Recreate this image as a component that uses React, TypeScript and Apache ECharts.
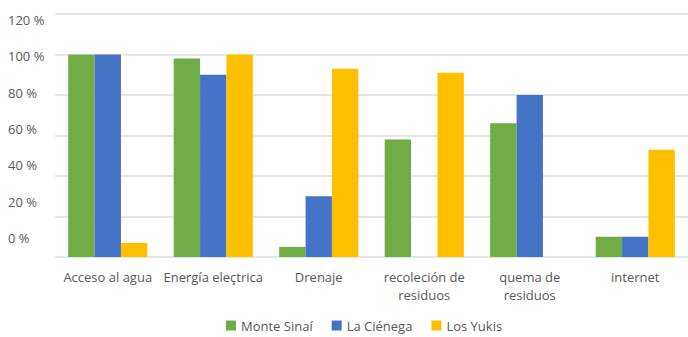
import React, { useEffect, useRef } from "react";
import * as echarts from "echarts";

const categories = [
  "Acceso al agua",
  "Energía eleçtrica",
  "Drenaje",
  "recoleción de\nresiduos",
  "quema de\nresiduos",
  "internet",
];
const monteSinai = [100, 98, 5, 58, 66, 10];
const laCienega = [100, 90, 30, 0, 80, 10];
const losYukis = [7, 100, 93, 91, 0, 53];
const yTicks = [0, 20, 40, 60, 80, 100, 120];

const FONT = "'Open Sans', 'Noto Sans', sans-serif";
const TXT = "#595959";

export default function App() {
  const ref = useRef<HTMLDivElement>(null);
  useEffect(() => {
    if (!ref.current) return;
    const chart = echarts.init(ref.current, undefined, { renderer: "svg" });
    const yMax = yTicks[yTicks.length - 1];
    const step = yTicks[1] - yTicks[0];
    chart.setOption({
      animation: false,
      backgroundColor: "#ffffff",
      textStyle: { fontFamily: FONT },
      grid: [
        { left: 55, top: 14, width: 638, height: 243 },
        { left: 8, top: 20, width: 10, height: 218 },
      ],
      legend: {
        left: 221,
        top: 314,
        padding: 5,
        itemWidth: 10,
        itemHeight: 10,
        itemGap: 19,
        icon: "rect",
        textStyle: { color: TXT, fontSize: 13, fontFamily: FONT },
        data: ["Monte Sinaí", "La Ciénega", "Los Yukis"],
      },
      xAxis: [
        {
          type: "category",
          gridIndex: 0,
          data: categories,
          axisLine: { show: false },
          axisTick: { show: false },
          axisLabel: {
            color: TXT,
            fontSize: 13,
            fontFamily: FONT,
            margin: 11,
            lineHeight: 18,
            interval: 0,
          },
        },
        { type: "value", gridIndex: 1, show: false },
      ],
      yAxis: [
        {
          type: "value",
          gridIndex: 0,
          min: 0,
          max: yMax,
          interval: step,
          axisLabel: { show: false },
          axisLine: { show: false },
          axisTick: { show: false },
          splitLine: { lineStyle: { color: "#dedede", width: 1.5 } },
        },
        {
          type: "value",
          gridIndex: 1,
          min: 0,
          max: yMax,
          interval: step,
          axisLine: { show: false },
          axisTick: { show: false },
          splitLine: { show: false },
          axisLabel: {
            color: TXT,
            fontSize: 13,
            fontFamily: FONT,
            align: "left",
            margin: 0,
            formatter: (v: number) => `${v} %`,
          },
        },
      ],
      series: [
        {
          name: "Monte Sinaí",
          type: "bar",
          data: monteSinai,
          itemStyle: { color: "#70AD47" },
          barGap: "0%",
          barCategoryGap: "25%",
        },
        {
          name: "La Ciénega",
          type: "bar",
          data: laCienega,
          itemStyle: { color: "#4472C4" },
          barGap: "0%",
          barCategoryGap: "25%",
        },
        {
          name: "Los Yukis",
          type: "bar",
          data: losYukis,
          itemStyle: { color: "#FFC000" },
          barGap: "0%",
          barCategoryGap: "25%",
        },
      ],
    });
    return () => chart.dispose();
  }, []);
  return <div ref={ref} style={{ width: 688, height: 337, position: "absolute", left: 0, top: 0 }} />;
}
